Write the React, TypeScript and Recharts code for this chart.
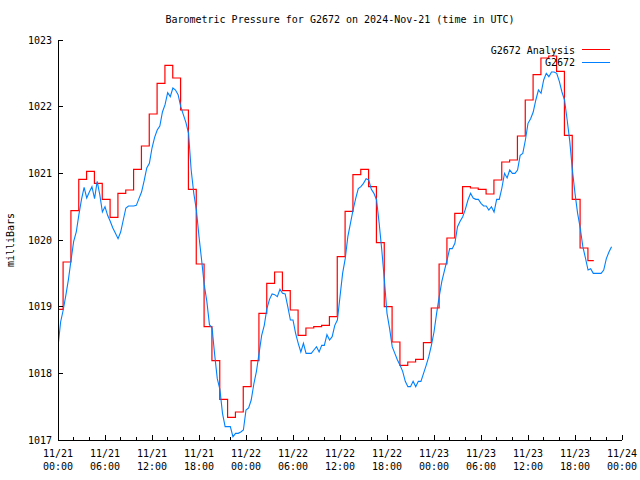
import React from 'react';
import { LineChart, Line, XAxis, YAxis } from 'recharts';

const chartTitle = 'Barometric Pressure for G2672 on 2024-Nov-21 (time in UTC)';
const yAxisLabel = 'milliBars';
const analysisName = 'G2672 Analysis';
const stationName = 'G2672';

const majorTickHours = [0, 6, 12, 18, 24, 30, 36, 42, 48, 54, 60, 66, 72];
const xTickDates = ['11/21', '11/21', '11/21', '11/21', '11/22', '11/22', '11/22', '11/22', '11/23', '11/23', '11/23', '11/23', '11/24'];
const xTickTimes = ['00:00', '06:00', '12:00', '18:00', '00:00', '06:00', '12:00', '18:00', '00:00', '06:00', '12:00', '18:00', '00:00'];
const minorTickHours = [0, 2, 4, 6, 8, 10, 12, 14, 16, 18, 20, 22, 24, 26, 28, 30, 32, 34, 36, 38, 40, 42, 44, 46, 48, 50, 52, 54, 56, 58, 60, 62, 64, 66, 68, 70, 72];
const yTicks = [1017, 1018, 1019, 1020, 1021, 1022, 1023];

// hourly analysis values; each one takes effect a little before its hour
const analysisLeadHours = 0.35;
const analysisEndHour = 68.4;
const analysisValues = [
  1018.96, 1019.67, 1020.44, 1020.91, 1021.03, 1020.85, 1020.61, 1020.34, 1020.70, 1020.75,
  1021.06, 1021.41, 1021.89, 1022.35, 1022.62, 1022.43, 1021.95, 1020.76, 1019.64, 1018.70,
  1018.19, 1017.61, 1017.34, 1017.42, 1017.80, 1018.19, 1018.90, 1019.35, 1019.52, 1019.24,
  1018.95, 1018.57, 1018.68, 1018.70, 1018.72, 1018.85, 1019.75, 1020.43, 1020.98, 1021.06,
  1020.80, 1019.96, 1019.00, 1018.47, 1018.12, 1018.17, 1018.21, 1018.46, 1018.98, 1019.64,
  1020.03, 1020.40, 1020.80, 1020.78, 1020.76, 1020.69, 1020.90, 1021.17, 1021.20, 1021.56,
  1022.10, 1022.48, 1022.73, 1022.76, 1022.53, 1021.57, 1020.61, 1019.88, 1019.69,
];

// station observations every 20 minutes
const stationStepHours = 1 / 3;
const stationValues = [
  1018.40, 1018.77, 1018.95, 1019.17, 1019.41, 1019.70, 1019.98, 1020.12, 1020.38, 1020.61,
  1020.79, 1020.63, 1020.72, 1020.80, 1020.62, 1020.88, 1020.68, 1020.42, 1020.50, 1020.37,
  1020.28, 1020.18, 1020.10, 1020.02, 1020.12, 1020.30, 1020.48, 1020.51, 1020.51, 1020.51,
  1020.52, 1020.62, 1020.72, 1020.89, 1021.08, 1021.15, 1021.38, 1021.54, 1021.65, 1021.71,
  1021.92, 1022.03, 1022.21, 1022.15, 1022.28, 1022.25, 1022.18, 1022.00, 1021.88, 1021.76,
  1021.60, 1021.05, 1020.70, 1020.45, 1020.05, 1019.70, 1019.33, 1019.08, 1018.73, 1018.68,
  1018.28, 1017.92, 1017.76, 1017.40, 1017.20, 1017.20, 1017.20, 1017.05, 1017.10, 1017.10,
  1017.12, 1017.15, 1017.45, 1017.48, 1017.60, 1017.84, 1018.03, 1018.30, 1018.57, 1018.72,
  1018.97, 1019.11, 1019.19, 1019.18, 1019.15, 1019.26, 1019.20, 1019.19, 1019.00, 1018.80,
  1018.80, 1018.60, 1018.45, 1018.32, 1018.45, 1018.30, 1018.30, 1018.30, 1018.35, 1018.40,
  1018.32, 1018.42, 1018.42, 1018.58, 1018.50, 1018.55, 1018.72, 1018.80, 1019.15, 1019.50,
  1019.72, 1020.05, 1020.25, 1020.45, 1020.62, 1020.77, 1020.80, 1020.85, 1020.92, 1020.90,
  1020.76, 1020.70, 1020.60, 1020.25, 1019.85, 1019.40, 1018.90, 1018.67, 1018.40, 1018.30,
  1018.20, 1018.12, 1018.03, 1017.88, 1017.80, 1017.80, 1017.88, 1017.80, 1017.88, 1017.88,
  1018.00, 1018.12, 1018.25, 1018.42, 1018.62, 1018.90, 1019.15, 1019.38, 1019.54, 1019.70,
  1019.87, 1019.87, 1019.95, 1020.20, 1020.28, 1020.35, 1020.46, 1020.60, 1020.70, 1020.63,
  1020.61, 1020.61, 1020.55, 1020.51, 1020.51, 1020.45, 1020.50, 1020.42, 1020.61, 1020.61,
  1020.78, 1021.00, 1020.93, 1021.05, 1021.00, 1021.00, 1021.05, 1021.27, 1021.30, 1021.50,
  1021.75, 1021.82, 1021.92, 1022.10, 1022.25, 1022.20, 1022.40, 1022.50, 1022.45, 1022.52,
  1022.52, 1022.50, 1022.38, 1022.22, 1022.10, 1021.80, 1021.48, 1021.05, 1020.70, 1020.40,
  1020.18, 1019.90, 1019.73, 1019.55, 1019.57, 1019.50, 1019.50, 1019.50, 1019.50, 1019.55,
  1019.72, 1019.82, 1019.90,
];

const RED = '#ff0000';
const BLUE = '#0080ff';
const FONT = '"DejaVu Sans Mono", "Liberation Mono", monospace';

const analysisData = analysisValues
  .map((v, k) => ({ t: k === 0 ? 0 : k - analysisLeadHours, v }))
  .concat([{ t: analysisEndHour, v: analysisValues[analysisValues.length - 1] }]);
const stationData = stationValues.map((v, i) => ({ t: i * stationStepHours, v }));

const MAJOR = 5;
const MINOR = 3;

function BottomTick(props: any) {
  const { x, y, payload } = props;
  const idx = majorTickHours.indexOf(payload.value);
  const major = idx >= 0;
  return (
    <g>
      <line x1={x} x2={x} y1={y} y2={y - (major ? MAJOR : MINOR)} stroke="#000" shapeRendering="crispEdges" />
      {major && (
        <text textAnchor="middle" fontFamily={FONT} fontSize={10} fill="#000">
          <tspan x={x} y={y + 17}>{xTickDates[idx]}</tspan>
          <tspan x={x} y={y + 30}>{xTickTimes[idx]}</tspan>
        </text>
      )}
    </g>
  );
}

function TopTick(props: any) {
  const { x, y, payload } = props;
  const major = majorTickHours.indexOf(payload.value) >= 0;
  return <line x1={x} x2={x} y1={y} y2={y + (major ? MAJOR : MINOR)} stroke="#000" shapeRendering="crispEdges" />;
}

function LeftTick(props: any) {
  const { x, y, payload } = props;
  return (
    <g>
      <line x1={x} x2={x + MAJOR} y1={y} y2={y} stroke="#000" shapeRendering="crispEdges" />
      <text x={x - 6} y={y} dy="0.36em" textAnchor="end" fontFamily={FONT} fontSize={10} fill="#000">
        {payload.value}
      </text>
    </g>
  );
}

function RightTick(props: any) {
  const { x, y } = props;
  return <line x1={x} x2={x - MAJOR} y1={y} y2={y} stroke="#000" shapeRendering="crispEdges" />;
}

export default function App() {
  const axisLine = { stroke: '#000', shapeRendering: 'crispEdges' } as any;
  return (
    <div style={{ position: 'absolute', left: 0, top: 0, width: 640, height: 480, background: '#fff' }}>
      <LineChart width={640} height={480} margin={{ top: 40, right: 18, bottom: 0, left: 0 }}>
        <XAxis
          xAxisId={0}
          dataKey="t"
          type="number"
          domain={[0, 72]}
          allowDataOverflow
          ticks={minorTickHours}
          interval={0}
          tickLine={false}
          tickSize={0}
          tickMargin={0}
          height={40}
          axisLine={axisLine}
          tick={(p: any) => <BottomTick {...p} />}
        />
        <XAxis
          xAxisId="top"
          orientation="top"
          dataKey="t"
          type="number"
          domain={[0, 72]}
          allowDataOverflow
          ticks={minorTickHours}
          interval={0}
          tickLine={false}
          tickSize={0}
          tickMargin={0}
          height={0}
          axisLine={axisLine}
          tick={(p: any) => <TopTick {...p} />}
        />
        <YAxis
          yAxisId={0}
          type="number"
          domain={[1017, 1023]}
          allowDataOverflow
          ticks={yTicks}
          interval={0}
          tickLine={false}
          tickSize={0}
          tickMargin={0}
          width={58}
          axisLine={axisLine}
          tick={(p: any) => <LeftTick {...p} />}
        />
        <YAxis
          yAxisId="right"
          orientation="right"
          type="number"
          domain={[1017, 1023]}
          allowDataOverflow
          ticks={yTicks}
          interval={0}
          tickLine={false}
          tickSize={0}
          tickMargin={0}
          width={0}
          axisLine={axisLine}
          tick={(p: any) => <RightTick {...p} />}
        />
        <Line
          data={analysisData}
          dataKey="v"
          type="stepAfter"
          stroke={RED}
          strokeWidth={1.2}
          dot={false}
          activeDot={false}
          isAnimationActive={false}
          name={analysisName}
        />
        <Line
          data={stationData}
          dataKey="v"
          type="linear"
          stroke={BLUE}
          strokeWidth={1.1}
          dot={false}
          activeDot={false}
          isAnimationActive={false}
          name={stationName}
        />
      </LineChart>
      <svg
        width={640}
        height={480}
        style={{ position: 'absolute', left: 0, top: 0, pointerEvents: 'none' }}
        fontFamily={FONT}
        fontSize={10}
      >
        <text x={340} y={23} textAnchor="middle" fill="#000">{chartTitle}</text>
        <text x={14} y={240} textAnchor="middle" fill="#000" transform="rotate(-90 14 240)">{yAxisLabel}</text>
        <text x={575} y={53.5} textAnchor="end" fill="#000">{analysisName}</text>
        <line x1={582} x2={610} y1={49.5} y2={49.5} stroke={RED} />
        <text x={575} y={66} textAnchor="end" fill="#000">{stationName}</text>
        <line x1={582} x2={610} y1={62.5} y2={62.5} stroke={BLUE} />
      </svg>
    </div>
  );
}
